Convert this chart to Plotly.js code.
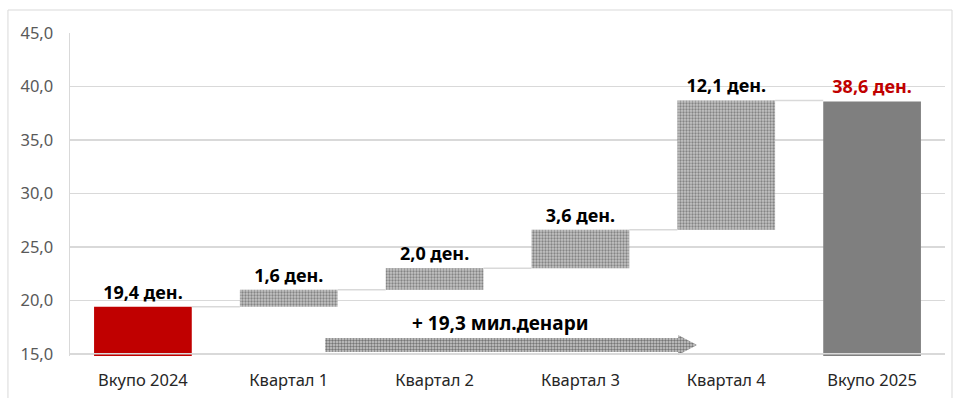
<!DOCTYPE html>
<html><head><meta charset="utf-8">
<script src="https://cdn.plot.ly/plotly-3.0.1.min.js"></script>
<style>html,body{margin:0;padding:0;background:#fff}#chart{width:953px;height:398px}</style>
</head><body><div id="chart"></div>
<script>
// ---- data ----
const categories = ["Вкупо 2024", "Квартал 1", "Квартал 2", "Квартал 3", "Квартал 4", "Вкупо 2025"];
const values = [19.4, 1.6, 2.0, 3.6, 12.1, 38.6];
const measures = ["total", "relative", "relative", "relative", "relative", "total"];
const yTicks = [15, 20, 25, 30, 35, 40, 45];
const arrowLabel = "+ 19,3 мил.денари";

// ---- derived bases ----
const bases = [];
let run = 0;
values.forEach((v, i) => {
  if (measures[i] === "total") { bases.push(0); run = v; }
  else { bases.push(run); run += v; }
});
const tops = values.map((v, i) => bases[i] + v);

const patGray = "#c4c4c4";
const patDots = "#f2f2f2";
const barColors = ["#c00000", patGray, patGray, patGray, patGray, "#7f7f7f"];
const barShapes = measures.map(m => m === "total" ? "" : ".");
const labelColors = values.map((v, i) => i === values.length - 1 ? "#c00000" : "#000000");
const barWidth = 0.67;

// connectors
const cx = [], cy = [];
for (let i = 0; i < values.length - 1; i++) {
  cx.push(i + barWidth / 2, i + 1 - barWidth / 2, null);
  cy.push(tops[i], tops[i], null);
}

const traces = [
  {
    type: "scatter", mode: "lines", x: cx, y: cy, xaxis: "x2", yaxis: "y",
    line: {color: "#d9d9d9", width: 1.5}, hoverinfo: "skip", showlegend: false
  },
  {
    type: "bar", x: categories, y: values, base: bases, width: barWidth,
    marker: {
      color: barColors, line: {width: 0},
      pattern: {shape: barShapes, fgcolor: patDots, size: 3, solidity: 0.45, fillmode: "overlay"}
    },
    texttemplate: "%{y:.1f} ден.", textposition: "outside", cliponaxis: false, constraintext: "none",
    outsidetextfont: {family: "Noto Sans, sans-serif", size: 18, color: labelColors, weight: "bold"},
    hoverinfo: "skip", showlegend: false
  },
  {
    // decorative arrow (annotation geometry)
    type: "scatter", mode: "lines", xaxis: "x2", yaxis: "y",
    x: [1.25, 3.67, 3.67, 3.80, 3.67, 3.67, 1.25, 1.25],
    y: [15.17, 15.17, 14.9, 15.83, 16.76, 16.48, 16.48, 15.17],
    fill: "toself", fillcolor: "#b4b4b4",
    fillpattern: {shape: ".", fgcolor: "#767676", bgcolor: "#cccccc", size: 3, solidity: 0.5, fillmode: "replace"},
    line: {width: 0}, cliponaxis: false, hoverinfo: "skip", showlegend: false
  }
];

const layout = {
  width: 953, height: 398,
  margin: {l: 70, r: 8, t: 33, b: 42},
  paper_bgcolor: "#ffffff", plot_bgcolor: "#ffffff",
  separators: ", ",
  bargap: 0.33,
  font: {family: "Noto Sans, sans-serif"},
  xaxis: {
    type: "category", categoryarray: categories, range: [-0.5, 5.5],
    showgrid: false, zeroline: false, showline: false, ticks: "",
    ticklabelstandoff: 12,
    tickfont: {size: 16.5, color: "#262626"}, fixedrange: true
  },
  xaxis2: {overlaying: "x", anchor: "y", range: [-0.5, 5.5], visible: false, fixedrange: true},
  yaxis: {
    range: [14.8, 45], tickvals: yTicks, tickformat: ".1f",
    showgrid: true, gridcolor: "#d9d9d9", gridwidth: 1.5, zeroline: false,
    showline: true, linecolor: "#d9d9d9", linewidth: 1.5,
    ticks: "", ticklabelstandoff: 12,
    tickfont: {size: 16.5, color: "#595959"}, fixedrange: true
  },
  shapes: [
    {type: "line", xref: "paper", yref: "y", x0: 0, x1: 1, y0: 15, y1: 15, layer: "above",
     line: {color: "#d9d9d9", width: 1.5}},
    {type: "rect", xref: "paper", yref: "paper", x0: -0.0709, x1: 1.008, y0: -0.14, y1: 1.0712,
     line: {color: "#d9d9d9", width: 1}, fillcolor: "rgba(0,0,0,0)", layer: "below"}
  ],
  annotations: [
    {xref: "x2", yref: "y", x: 2.45, y: 17.9, text: arrowLabel, showarrow: false,
     font: {family: "Noto Sans, sans-serif", size: 19, color: "#000000", weight: "bold"}}
  ]
};

Plotly.newPlot("chart", traces, layout, {displayModeBar: false, staticPlot: true});
</script></body></html>
